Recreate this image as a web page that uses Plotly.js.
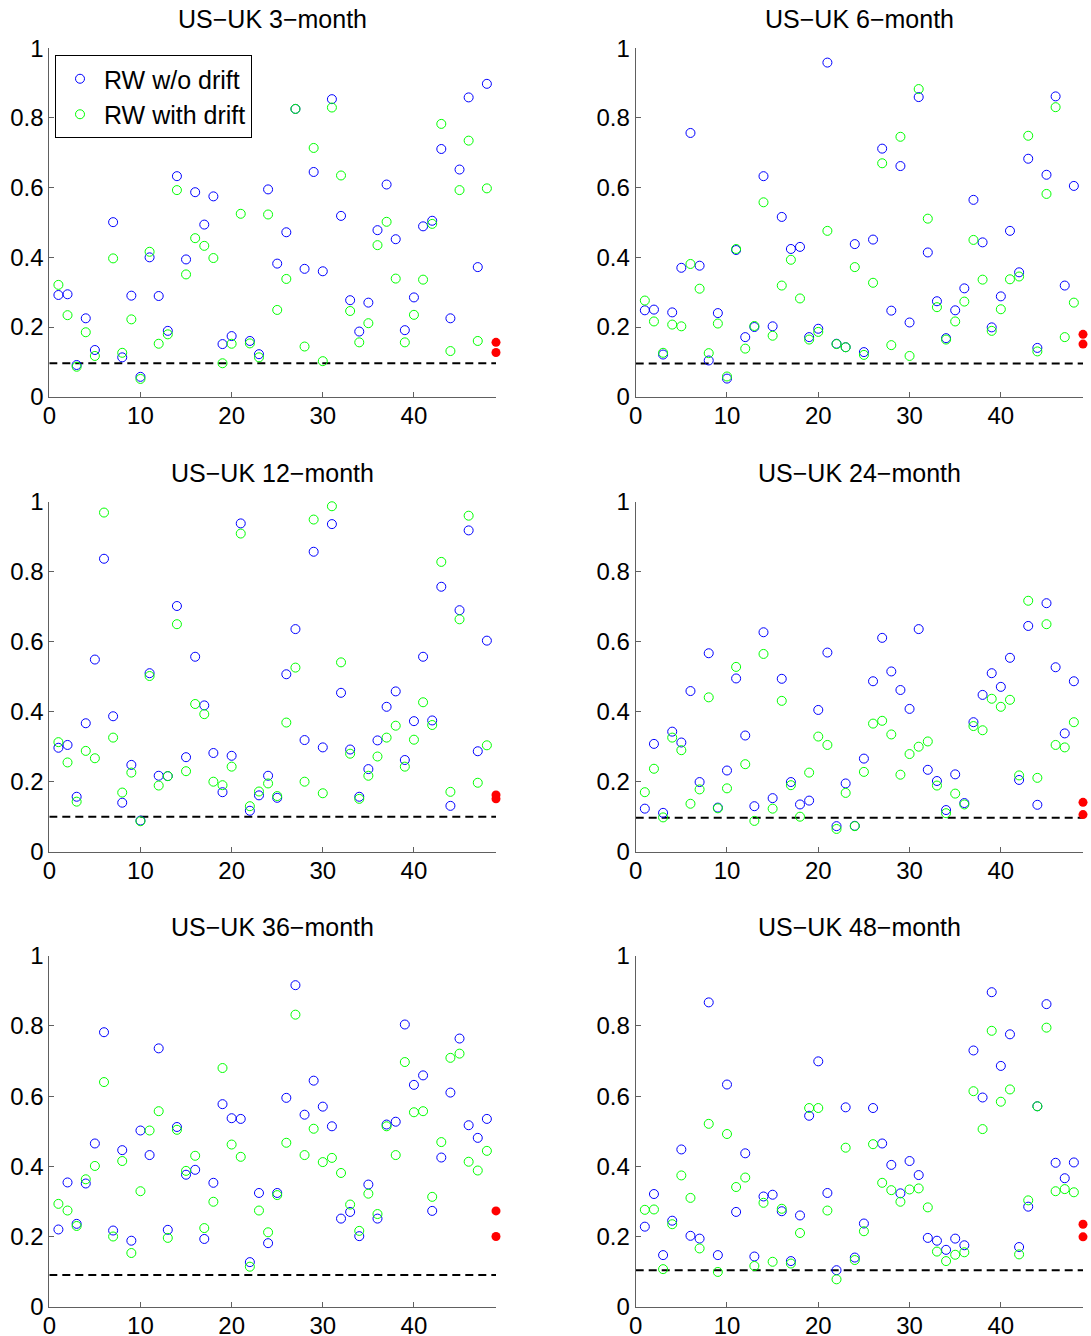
<!DOCTYPE html>
<html>
<head>
<meta charset="utf-8">
<script src="https://cdn.plot.ly/plotly-3.0.1.min.js"></script>
<style>html,body{margin:0;padding:0;background:#fff;}#chart{width:1091px;height:1336px;}</style>
</head>
<body>
<div id="chart"></div>
<script>
// ---- data ----
const periods = [1,2,3,4,5,6,7,8,9,10,11,12,13,14,15,16,17,18,19,20,21,22,23,24,25,26,27,28,29,30,31,32,33,34,35,36,37,38,39,40,41,42,43,44,45,46,47,48];
const titles = ['US\u2212UK 3\u2212month','US\u2212UK 6\u2212month','US\u2212UK 12\u2212month','US\u2212UK 24\u2212month','US\u2212UK 36\u2212month','US\u2212UK 48\u2212month'];
const seriesNames = ['RW w/o drift','RW with drift'];

const m3_noDrift = [0.292,0.294,0.091,0.225,0.134,null,0.501,0.113,0.290,0.057, 0.400,0.289,0.189,0.633,0.394,0.587,0.494,0.575,0.151,0.174, 0.783,0.160,0.122,0.595,0.382,0.472,0.826,0.367,0.645,0.360, 0.854,0.519,0.277,0.187,0.270,0.478,0.609,0.452,0.191,0.285, 0.489,0.505,0.711,0.225,0.652,0.859,0.372,0.898];
const m3_drift   = [0.321,0.234,0.086,0.185,0.117,null,0.397,0.126,0.222,0.051, 0.416,0.152,0.179,0.593,0.351,0.455,0.433,0.398,0.096,0.152, 0.525,0.153,0.113,0.523,0.249,0.338,0.826,0.144,0.714,0.102, 0.830,0.635,0.246,0.156,0.211,0.435,0.502,0.339,0.156,0.235, 0.336,0.496,0.783,0.131,0.593,0.735,0.160,0.598];

const m6_noDrift = [0.248,0.250,0.121,0.242,0.370,0.757,0.376,0.104,0.240,0.052, 0.421,0.171,0.200,0.633,0.202,0.516,0.424,0.430,0.171,0.195, 0.959,0.152,0.142,0.438,0.128,0.451,0.712,0.247,0.662,0.213, 0.860,0.414,0.274,0.168,0.248,0.311,0.565,0.443,0.199,0.288, 0.476,0.357,0.683,0.140,0.637,0.862,0.319,0.605];
const m6_drift   = [0.276,0.216,0.126,0.207,0.202,0.381,0.310,0.125,0.210,0.058, 0.424,0.138,0.203,0.558,0.175,0.319,0.393,0.282,0.164,0.186, 0.476,0.151,0.142,0.372,0.120,0.327,0.670,0.148,0.746,0.117, 0.883,0.511,0.257,0.164,0.216,0.273,0.450,0.336,0.189,0.251, 0.337,0.345,0.749,0.130,0.582,0.831,0.171,0.270];

const m12_noDrift = [0.297,0.305,0.157,0.367,0.549,0.837,0.387,0.140,0.248,0.089, 0.510,0.217,0.216,0.702,0.270,0.557,0.418,0.282,0.170,0.274, 0.938,0.117,0.161,0.217,0.154,0.507,0.636,0.319,0.857,0.298, 0.936,0.454,0.292,0.157,0.236,0.318,0.414,0.458,0.262,0.373, 0.557,0.375,0.757,0.131,0.690,0.918,0.287,0.603];
const m12_drift   = [0.313,0.255,0.143,0.288,0.267,0.969,0.326,0.169,0.226,0.087, 0.502,0.189,0.216,0.650,0.230,0.422,0.393,0.200,0.190,0.243, 0.909,0.130,0.172,0.195,0.159,0.369,0.526,0.200,0.949,0.167, 0.987,0.541,0.280,0.151,0.217,0.272,0.326,0.360,0.243,0.320, 0.427,0.362,0.828,0.171,0.664,0.960,0.197,0.304];

const m24_noDrift = [0.123,0.308,0.111,0.343,0.312,0.459,0.199,0.567,0.126,0.232, 0.495,0.332,0.130,0.627,0.153,0.494,0.199,0.135,0.146,0.405, 0.569,0.073,0.195,0.074,0.266,0.487,0.611,0.515,0.462,0.408, 0.636,0.234,0.202,0.119,0.221,0.139,0.370,0.448,0.510,0.471, 0.554,0.205,0.645,0.134,0.710,0.527,0.338,0.487];
const m24_drift   = [0.170,0.237,0.098,0.326,0.290,0.137,0.178,0.441,0.124,0.181, 0.528,0.250,0.088,0.565,0.123,0.431,0.190,0.100,0.226,0.329, 0.305,0.065,0.168,0.073,0.228,0.366,0.374,0.335,0.220,0.279, 0.300,0.315,0.189,0.110,0.166,0.135,0.359,0.347,0.437,0.414, 0.434,0.218,0.717,0.211,0.650,0.305,0.298,0.370];

const m36_noDrift = [0.220,0.354,0.236,0.351,0.465,0.782,0.217,0.446,0.188,0.502, 0.432,0.736,0.219,0.512,0.376,0.390,0.193,0.353,0.577,0.537, 0.535,0.127,0.324,0.181,0.324,0.595,0.916,0.547,0.644,0.570, 0.514,0.251,0.270,0.201,0.348,0.251,0.519,0.527,0.804,0.632, 0.659,0.273,0.425,0.610,0.764,0.517,0.481,0.535];
const m36_drift   = [0.293,0.274,0.230,0.363,0.401,0.640,0.200,0.415,0.153,0.329, 0.502,0.557,0.196,0.504,0.387,0.430,0.224,0.299,0.680,0.462, 0.427,0.114,0.274,0.212,0.318,0.467,0.832,0.432,0.507,0.412, 0.424,0.381,0.291,0.216,0.322,0.264,0.514,0.432,0.697,0.554, 0.557,0.313,0.469,0.709,0.721,0.413,0.388,0.444];

const m48_noDrift = [0.228,0.321,0.147,0.245,0.448,0.202,0.194,0.867,0.147,0.633, 0.270,0.437,0.143,0.314,0.319,0.272,0.130,0.260,0.544,0.699, 0.324,0.104,0.568,0.140,0.237,0.566,0.465,0.404,0.323,0.415, 0.375,0.196,0.188,0.162,0.194,0.175,0.730,0.596,0.896,0.686, 0.776,0.170,0.285,0.571,0.862,0.410,0.366,0.411];
const m48_drift   = [0.276,0.277,0.107,0.235,0.374,0.310,0.166,0.521,0.099,0.492, 0.341,0.368,0.116,0.296,0.128,0.279,0.123,0.210,0.566,0.566, 0.274,0.078,0.453,0.133,0.215,0.463,0.353,0.332,0.299,0.334, 0.337,0.283,0.157,0.130,0.148,0.155,0.614,0.506,0.786,0.584, 0.619,0.149,0.303,0.571,0.795,0.329,0.335,0.326];

const redX = [49, 49];
const red_m3  = [0.156, 0.127];
const red_m6  = [0.179, 0.151];
const red_m12 = [0.162, 0.151];
const red_m24 = [0.141, 0.106];
const red_m36 = [0.273, 0.200];
const red_m48 = [0.235, 0.199];

const thresholdX = [0, 49];
const thresholds = [0.096, 0.095, 0.100, 0.097, 0.090, 0.104];

const xTickVals = [0, 10, 20, 30, 40];
const xTickText = ['0', '10', '20', '30', '40'];
const yTickVals = [0, 0.2, 0.4, 0.6, 0.8, 1];
const yTickText = ['0', '0.2', '0.4', '0.6', '0.8', '1'];

// ---- build ----
const noDrift = [m3_noDrift, m6_noDrift, m12_noDrift, m24_noDrift, m36_noDrift, m48_noDrift];
const drift = [m3_drift, m6_drift, m12_drift, m24_drift, m36_drift, m48_drift];
const reds = [red_m3, red_m6, red_m12, red_m24, red_m36, red_m48];

const W = 1091, H = 1336;
const colPx = [[49.3, 496], [635.7, 1083]];
const rowPx = [[48.3, 396.7], [501.7, 851.7], [955.7, 1306.7]]; // [top, bottom]
const FONT = '"Liberation Sans", Arial, Helvetica, sans-serif';

const traces = [];
const layout = {
  width: W, height: H,
  margin: {l: 0, r: 0, t: 0, b: 0},
  paper_bgcolor: '#ffffff', plot_bgcolor: 'rgba(0,0,0,0)',
  font: {family: FONT, size: 24, color: '#000'},
  showlegend: true,
  legend: {
    x: 55 / W, y: 1 - 55 / H, xanchor: 'left', yanchor: 'top',
    bgcolor: '#ffffff', bordercolor: '#000000', borderwidth: 1,
    font: {family: FONT, size: 25, color: '#000'},
    itemwidth: 38, tracegroupgap: 0
  },
  annotations: []
};

for (let k = 0; k < 6; k++) {
  const r = Math.floor(k / 2), c = k % 2;
  const sfx = k === 0 ? '' : String(k + 1);
  const xa = 'x' + sfx, ya = 'y' + sfx;
  const xd = [colPx[c][0] / W, colPx[c][1] / W];
  const yd = [1 - rowPx[r][1] / H, 1 - rowPx[r][0] / H];
  const axCommon = {
    showgrid: false, zeroline: false, showline: true, linecolor: '#606060', linewidth: 1,
    mirror: false, ticks: 'inside', ticklen: 5, tickcolor: '#606060', tickwidth: 1,
    tickfont: {family: FONT, size: 24, color: '#000'}, fixedrange: true
  };
  layout['xaxis' + sfx] = Object.assign({}, axCommon, {
    domain: xd, range: [0, 49], anchor: ya,
    tickmode: 'array', tickvals: xTickVals, ticktext: xTickText,
    ticklabelstandoff: -3
  });
  layout['yaxis' + sfx] = Object.assign({}, axCommon, {
    domain: yd, range: [0, 1], anchor: xa,
    tickmode: 'array', tickvals: yTickVals, ticktext: yTickText
  });
  layout.annotations.push({
    text: titles[k], xref: 'paper', yref: 'paper',
    x: (xd[0] + xd[1]) / 2, y: yd[1], xanchor: 'center', yanchor: 'bottom',
    yshift: 13, showarrow: false, font: {family: FONT, size: 25, color: '#000'}
  });

  traces.push({
    type: 'scatter', mode: 'lines', x: thresholdX, y: [thresholds[k], thresholds[k]],
    xaxis: xa, yaxis: ya, showlegend: false, hoverinfo: 'skip',
    line: {color: '#000000', width: 2, dash: '8px,5px'}
  });
  traces.push({
    type: 'scatter', mode: 'markers', x: periods, y: noDrift[k], name: seriesNames[0],
    xaxis: xa, yaxis: ya, showlegend: k === 0, cliponaxis: false,
    marker: {symbol: 'circle-open', size: 9, color: '#0000ff', line: {width: 1, color: '#0000ff'}}
  });
  traces.push({
    type: 'scatter', mode: 'markers', x: periods, y: drift[k], name: seriesNames[1],
    xaxis: xa, yaxis: ya, showlegend: k === 0, cliponaxis: false,
    marker: {symbol: 'circle-open', size: 9, color: '#00ff00', line: {width: 1, color: '#00ff00'}}
  });
  traces.push({
    type: 'scatter', mode: 'markers', x: redX, y: reds[k],
    xaxis: xa, yaxis: ya, showlegend: false, cliponaxis: false,
    marker: {symbol: 'circle', size: 9, color: '#ff0000'}
  });
}

Plotly.newPlot('chart', traces, layout, {staticPlot: true, displayModeBar: false});
</script>
</body>
</html>
